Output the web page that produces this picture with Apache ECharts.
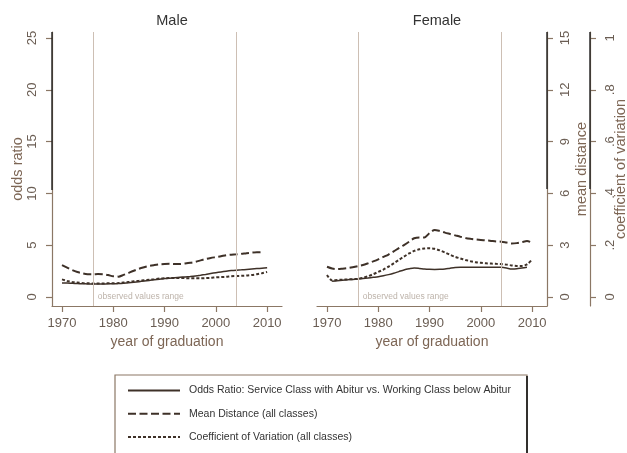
<!DOCTYPE html>
<html>
<head>
<meta charset="utf-8">
<script src="https://cdn.jsdelivr.net/npm/echarts@6/dist/echarts.min.js"></script>
<style>
html,body{margin:0;padding:0;background:#fff;}
#c{width:627px;height:453px;}
</style>
</head>
<body>
<div id="c"></div>
<script>
// ---------- data ----------
const years = [1970,1971,1972,1973,1974,1975,1976,1977,1978,1979,1980,1981,1982,1983,1984,1985,1986,1987,1988,1989,1990,1991,1992,1993,1994,1995,1996,1997,1998,1999,2000,2001,2002,2003,2004,2005,2006,2007,2008,2009,2010];

const maleOddsRatio = [1.35,1.35,1.32,1.30,1.28,1.26,1.25,1.25,1.26,1.27,1.28,1.30,1.33,1.37,1.42,1.48,1.54,1.60,1.66,1.72,1.78,1.82,1.86,1.90,1.94,1.98,2.03,2.10,2.18,2.27,2.35,2.42,2.49,2.55,2.59,2.62,2.66,2.70,2.74,2.78,2.82];
const maleMeanDistance = [1.85,1.70,1.56,1.45,1.37,1.32,1.31,1.33,1.32,1.27,1.20,1.18,1.28,1.40,1.52,1.63,1.72,1.80,1.85,1.89,1.91,1.92,1.91,1.91,1.94,1.98,2.04,2.12,2.20,2.26,2.31,2.36,2.42,2.45,2.47,2.50,2.54,2.57,2.59,2.60,null];
const maleCoefVar = [0.068,0.062,0.058,0.056,0.054,0.053,0.052,0.052,0.052,0.053,0.053,0.054,0.056,0.058,0.061,0.063,0.065,0.067,0.069,0.071,0.072,0.073,0.073,0.073,0.073,0.072,0.072,0.072,0.073,0.074,0.076,0.077,0.078,0.080,0.081,0.082,0.083,0.085,0.088,0.092,0.097];

const femaleOddsRatio = [null,1.52,1.57,1.62,1.66,1.70,1.74,1.79,1.84,1.90,1.96,2.05,2.16,2.29,2.45,2.61,2.72,2.80,2.76,2.70,2.67,2.66,2.67,2.70,2.78,2.85,2.87,2.86,2.86,2.87,2.87,2.88,2.88,2.88,2.87,2.80,2.70,2.72,2.80,2.87,null];
const femaleMeanDistance = [1.75,1.65,1.62,1.64,1.67,1.72,1.78,1.85,1.95,2.06,2.18,2.32,2.46,2.64,2.83,3.01,3.20,3.40,3.45,3.45,3.70,3.88,3.82,3.73,3.65,3.57,3.49,3.42,3.37,3.33,3.30,3.28,3.25,3.22,3.20,3.15,3.10,3.12,3.18,3.24,3.14];
const femaleCoefVar = [0.085,0.064,0.066,0.067,0.068,0.069,0.070,0.074,0.080,0.088,0.097,0.106,0.117,0.130,0.143,0.156,0.168,0.178,0.184,0.187,0.188,0.186,0.180,0.172,0.163,0.155,0.149,0.143,0.138,0.134,0.132,0.130,0.129,0.128,0.127,0.125,0.122,0.120,0.120,0.126,0.145];

const xTicks = [1970,1980,1990,2000,2010];
const orTicks = [0,5,10,15,20,25];
const mdTicks = [0,3,6,9,12,15];
const cvTicks = [0,0.2,0.4,0.6,0.8,1];
const cvTickLabels = ['0','.2','.4','.6','.8','1'];
const observedRange = [1976,2004];

const panelTitles = ['Male','Female'];
const seriesNames = [
  'Odds Ratio: Service Class with Abitur vs. Working Class below Abitur',
  'Mean Distance (all classes)',
  'Coefficient of Variation (all classes)'
];

// ---------- styles ----------
const FONT = 'Liberation Sans, Arial, sans-serif';
const AXIS = '#8b7765';
const LINE = '#3e3128';
const REF = '#cdbfb4';
const TICKTXT = '#6a5d53';
const NAMETXT = '#7d6655';

const gridTop = 32, gridH = 274;
const padLo = 9/259, padHi = (gridH - 9 - 259)/259 + 1;
function yr(maxTick){ return {min: -maxTick*padLo, max: maxTick*padHi}; }

function pairs(vals){ return years.map((y,i)=>[y, vals[i]]); }

function yAxisDef(grid, ticks, show, opts, labelMargin){
  const r = yr(ticks[ticks.length-1]);
  const base = {
    type:'value', gridIndex:grid, min:r.min, max:r.max, show:show,
    splitLine:{show:false},
    axisLine:{show:true, onZero:false, lineStyle:{color:AXIS, width:1.2}},
    axisTick:{show:true, length:6, lineStyle:{color:AXIS, width:1.2}, customValues:ticks},
    axisLabel:{show:true, rotate:90, customValues:ticks, color:TICKTXT, fontFamily:FONT, fontSize:13, margin:labelMargin||13},
    nameLocation:'middle', nameRotate:90,
    nameTextStyle:{color:NAMETXT, fontFamily:FONT, fontSize:14.5}
  };
  return Object.assign(base, opts||{});
}

function xAxisDef(grid){
  return {
    type:'value', gridIndex:grid, min:1968.05, max:2012.9,
    splitLine:{show:false},
    axisLine:{onZero:false, lineStyle:{color:AXIS, width:1.2}},
    axisTick:{length:6, lineStyle:{color:AXIS, width:1.2}, customValues:xTicks},
    axisLabel:{customValues:xTicks, color:TICKTXT, fontFamily:FONT, fontSize:13, margin:11,
               formatter:function(v){ return String(v); }},
    name:'year of graduation', nameLocation:'middle', nameGap:25,
    nameTextStyle:{color:NAMETXT, fontFamily:FONT, fontSize:14}
  };
}

function lineSeries(name, vals, xi, yi, type, width){
  return {
    type:'line', name:name, xAxisIndex:xi, yAxisIndex:yi, data:pairs(vals),
    showSymbol:false, symbol:'none', smooth:0.3, connectNulls:false,
    lineStyle:{color:LINE, width:width, type:type},
    itemStyle:{color:LINE},
    z:3
  };
}

function refMarks(){
  return {
    markLine:{
      silent:true, symbol:'none',
      lineStyle:{color:REF, width:1, type:'solid'},
      label:{show:false},
      data: observedRange.map(v=>({xAxis:v}))
    },
    markArea:{
      silent:true,
      itemStyle:{color:'rgba(255,255,255,0)'},
      label:{show:true, position:'insideBottomLeft', distance:5,
             color:'#bdb3aa', fontFamily:FONT, fontSize:8.5},
      data:[[{name:'observed values range', xAxis:observedRange[0]},{xAxis:observedRange[1]}]]
    }
  };
}

const DASH = [8,3.5];
const DOT = [3,2];

const series = [];
// male
series.push(Object.assign(lineSeries(seriesNames[0], maleOddsRatio, 0, 0, 'solid', 1.5), refMarks()));
series.push(lineSeries(seriesNames[1], maleMeanDistance, 0, 1, DASH, 2));
series.push(lineSeries(seriesNames[2], maleCoefVar, 0, 2, DOT, 2));
// female
series.push(Object.assign(lineSeries(seriesNames[0], femaleOddsRatio, 1, 3, 'solid', 1.5), refMarks()));
series.push(lineSeries(seriesNames[1], femaleMeanDistance, 1, 4, DASH, 2));
series.push(lineSeries(seriesNames[2], femaleCoefVar, 1, 5, DOT, 2));

const option = {
  animation:false,
  backgroundColor:'#fff',
  textStyle:{fontFamily:FONT},
  title: panelTitles.map((t,i)=>({
    text:t, left:[167,432][i], top:8, textAlign:'center',
    textStyle:{fontSize:14.5, fontWeight:'normal', color:'#333', fontFamily:FONT}
  })),
  grid:[
    {left:52, top:gridTop, width:230, height:gridH, containLabel:false, outerBoundsMode:'none'},
    {left:317, top:gridTop, width:230, height:gridH, containLabel:false, outerBoundsMode:'none'}
  ],
  xAxis:[xAxisDef(0), xAxisDef(1)],
  yAxis:[
    yAxisDef(0, orTicks, true, {position:'left', name:'odds ratio', nameGap:27}, 13),
    yAxisDef(0, mdTicks, false),
    yAxisDef(0, cvTicks, false),
    yAxisDef(1, orTicks, false),
    yAxisDef(1, mdTicks, true, {position:'right', name:'mean distance', nameGap:27}, 11.5),
    (function(){
      const a = yAxisDef(1, cvTicks, true, {position:'right', offset:43, name:'coefficient of variation', nameGap:23, nameMoveOverlap:false}, 13.5);
      a.axisLabel.formatter = function(v){ const i = cvTicks.indexOf(v); return i>=0 ? cvTickLabels[i] : ''; };
      return a;
    })()
  ],
  legend:{
    data:seriesNames, orient:'vertical', left:122, top:380,
    itemWidth:52, itemHeight:14, itemGap:12,
    itemStyle:{opacity:0},
    textStyle:{fontFamily:FONT, fontSize:10.5, color:'#333', padding:[0,0,0,4]}
  },
  graphic:[
    {type:'rect', shape:{x:115, y:375, width:412, height:100}, style:{fill:'none', stroke:'#8b7765', lineWidth:1.2}, z:1},
    {type:'line', shape:{x1:527, y1:376, x2:527, y2:460}, style:{stroke:'#111', lineWidth:1.6}, z:2},
    {type:'line', shape:{x1:52, y1:gridTop, x2:52, y2:190}, style:{stroke:'#222', lineWidth:1.4}, z:50},
    {type:'line', shape:{x1:547, y1:gridTop, x2:547, y2:189}, style:{stroke:'#222', lineWidth:1.4}, z:50},
    {type:'line', shape:{x1:590, y1:gridTop, x2:590, y2:189}, style:{stroke:'#222', lineWidth:1.4}, z:50}
  ],
  series:series
};

const chart = echarts.init(document.getElementById('c'), null, {renderer:'canvas'});
chart.setOption(option);
</script>
</body>
</html>
